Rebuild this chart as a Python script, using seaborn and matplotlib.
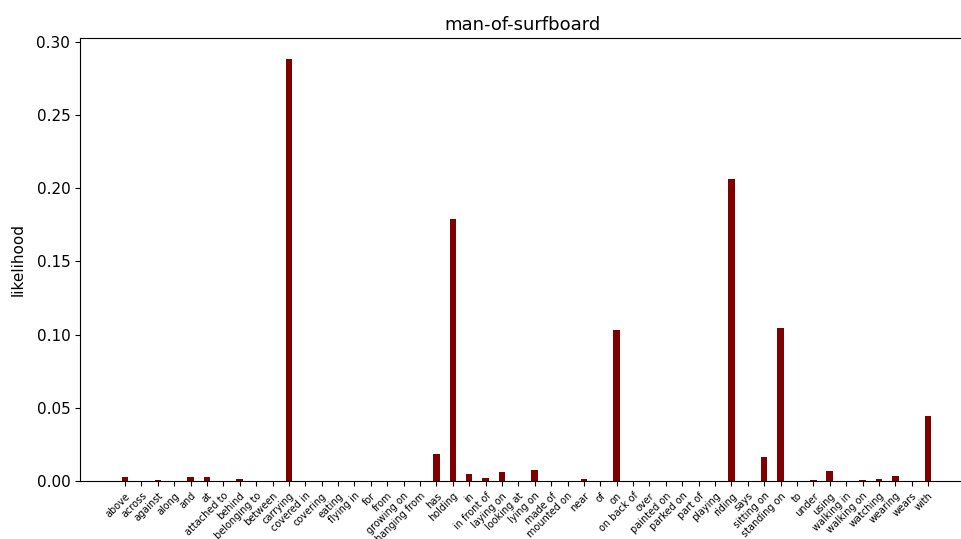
import matplotlib
matplotlib.use("Agg")
import matplotlib.pyplot as plt
import seaborn as sns
import pandas as pd

categories = ["above", "across", "against", "along", "and", "at", "attached to", "behind",
              "belonging to", "between", "carrying", "covered in", "covering", "eating",
              "flying in", "for", "from", "growing on", "hanging from", "has", "holding", "in",
              "in front of", "laying on", "looking at", "lying on", "made of", "mounted on",
              "near", "of", "on", "on back of", "over", "painted on", "parked on", "part of",
              "playing", "riding", "says", "sitting on", "standing on", "to", "under", "using",
              "walking in", "walking on", "watching", "wearing", "wears", "with"]
likelihood = [0.003, 0.0, 0.001, 0.0, 0.003, 0.003, 0.0003, 0.0015,
              0.0, 0.0, 0.288, 0.0, 0.0, 0.0,
              0.0, 0.0, 0.0003, 0.0, 0.0, 0.0184, 0.1786, 0.0048,
              0.002, 0.006, 0.0, 0.0075, 0.0, 0.0,
              0.0015, 0.0003, 0.103, 0.0, 0.0002, 0.0, 0.0, 0.0,
              0.0, 0.206, 0.0, 0.0164, 0.1043, 0.0, 0.001, 0.0068,
              0.0, 0.001, 0.0015, 0.0035, 0.0, 0.0443]

df = pd.DataFrame({"relation": categories, "likelihood": likelihood})

fig = plt.figure(figsize=(9.61, 5.39), dpi=100)
W, H = 961, 539
left_px, right_px, top_px, bottom_px = 80, 964, 38, 481
ax = fig.add_axes([left_px / W, 1 - bottom_px / H, (right_px - left_px) / W, (bottom_px - top_px) / H])

sns.barplot(data=df, x="relation", y="likelihood", color="#800000", width=0.4,
            saturation=1, ax=ax)

step = 16.39
x0 = -(125 - left_px) / step
ax.set_xlim(x0, x0 + (right_px - left_px) / step)
ax.set_ylim(0, 0.288 * 1.05)
ax.set_yticks([0.0, 0.05, 0.10, 0.15, 0.20, 0.25, 0.30])
ax.set_yticklabels(["0.00", "0.05", "0.10", "0.15", "0.20", "0.25", "0.30"], fontsize=11)
ax.set_xticks(range(len(categories)))
ax.set_xticklabels(categories, rotation=45, fontsize=7, ha="right", rotation_mode="anchor")
ax.set_xlabel("")
ax.set_ylabel("likelihood", fontsize=11, labelpad=8)
ax.set_title("man-of-surfboard", fontsize=13)

fig.savefig("out.png", dpi=100)
